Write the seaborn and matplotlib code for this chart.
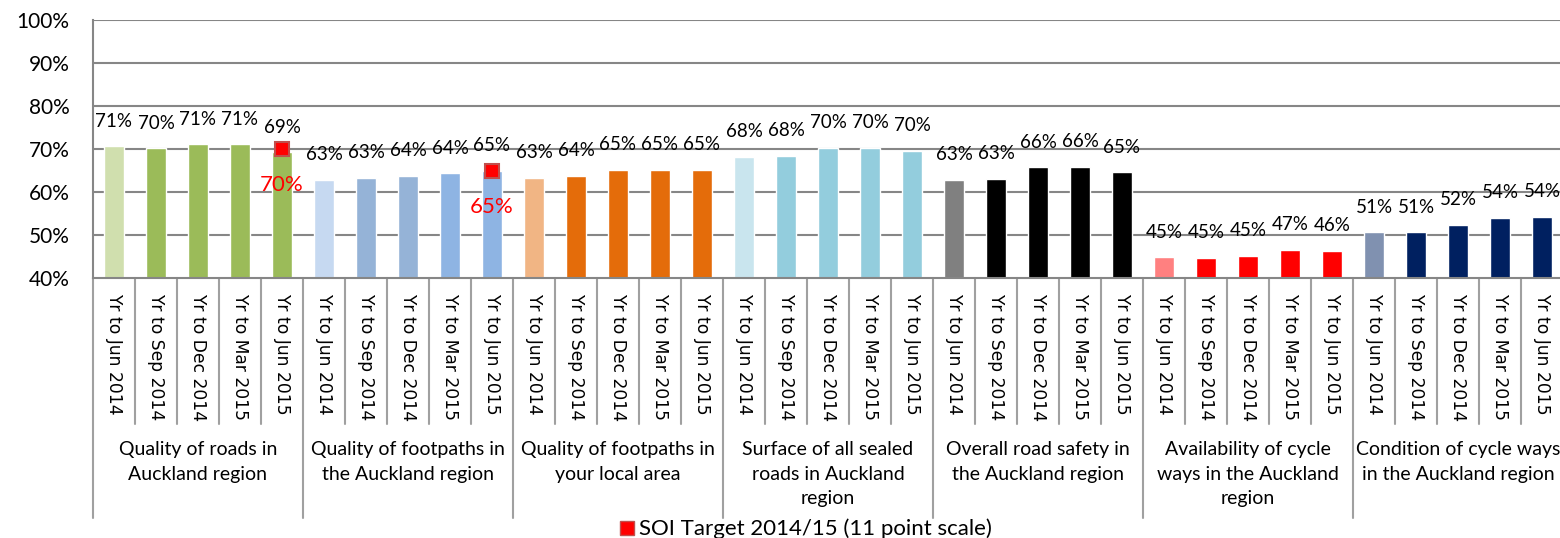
import numpy as np
import pandas as pd
import matplotlib
matplotlib.use("Agg")
import matplotlib.pyplot as plt
import matplotlib.transforms as mtransforms
from matplotlib.lines import Line2D
import seaborn as sns

periods = ["Yr to Jun 2014", "Yr to Sep 2014", "Yr to Dec 2014", "Yr to Mar 2015", "Yr to Jun 2015"]
measures = [
    "Quality of roads in\nAuckland region",
    "Quality of footpaths in\nthe Auckland region",
    "Quality of footpaths in\nyour local area",
    "Surface of all sealed\nroads in Auckland\nregion",
    "Overall road safety in\nthe Auckland region",
    "Availability of cycle\nways in the Auckland\nregion",
    "Condition of cycle ways\nin the Auckland region",
]
roads = [70.6, 70.2, 71.1, 71.1, 69.3]
footpaths_akl = [62.8, 63.3, 63.8, 64.4, 65.0]
footpaths_local = [63.3, 63.8, 65.2, 65.2, 65.2]
sealed = [68.2, 68.4, 70.3, 70.3, 69.6]
safety = [62.9, 63.1, 65.7, 65.9, 64.6]
cycle_avail = [44.8, 44.7, 45.2, 46.6, 46.3]
cycle_cond = [50.6, 50.6, 52.4, 54.0, 54.2]
all_values = [roads, footpaths_akl, footpaths_local, sealed, safety, cycle_avail, cycle_cond]

group_colors = [
    ["#D0DFAE", "#9BBB59", "#9BBB59", "#9BBB59", "#9BBB59"],
    ["#C6D9F1", "#95B3D7", "#95B3D7", "#8EB4E3", "#8EB4E3"],
    ["#F1B584", "#E46C0A", "#E46C0A", "#E46C0A", "#E46C0A"],
    ["#C9E5EE", "#93CDDD", "#93CDDD", "#93CDDD", "#93CDDD"],
    ["#808080", "#000000", "#000000", "#000000", "#000000"],
    ["#FF8080", "#FF0000", "#FF0000", "#FF0000", "#FF0000"],
    ["#8091B0", "#002060", "#002060", "#002060", "#002060"],
]

# SOI targets (group index, value)
target_groups = [0, 1]
target_values = [70, 65]

rows = []
for g, vals in enumerate(all_values):
    for p, v in enumerate(vals):
        rows.append({"slot": f"{g}_{p}", "period": periods[p], "value": v,
                     "color": group_colors[g][p]})
df = pd.DataFrame(rows)

sns.set_style("white")
plt.rcParams["font.family"] = ["Lato", "DejaVu Sans"]
plt.rcParams["text.color"] = "black"
plt.rcParams["xtick.color"] = "black"
plt.rcParams["ytick.color"] = "black"

fig = plt.figure(figsize=(15.6, 5.38), dpi=100)
ax = fig.add_axes([93 / 1560, 1 - 278 / 538, 1470 / 1560, 258 / 538])

sns.barplot(data=df, x="slot", y="value", hue="slot",
            palette=dict(zip(df["slot"], df["color"])), legend=False,
            width=0.48, saturation=1, ax=ax, order=list(df["slot"]))

ax.set_ylim(40, 100)
ax.set_xlim(-0.5, len(df) - 0.5)
ax.set_yticks(range(40, 101, 10))
ax.set_yticklabels([f"{t}%" for t in range(40, 101, 10)], fontsize=15)
ax.set_xlabel("")
ax.set_ylabel("")
for t in range(50, 101, 10):
    ax.axhline(t, color="#868686", lw=1.5, zorder=0)
for s in ["top", "right"]:
    ax.spines[s].set_visible(False)
ax.spines["left"].set_color("#868686")
ax.spines["bottom"].set_color("#868686")
ax.spines["left"].set_linewidth(1.5)
ax.spines["bottom"].set_linewidth(1.5)
ax.tick_params(axis="y", length=7, width=1.5, color="#868686", labelcolor="black", pad=10)

# period tick labels, rotated
ax.set_xticks(range(len(df)))
ax.set_xticklabels(df["period"], rotation=270, fontsize=12.3, family="DejaVu Sans",
                   va="top", ha="center")
ax.tick_params(axis="x", length=0, pad=11, labelcolor="black")

# value labels
for i, v in enumerate(df["value"]):
    ax.annotate(f"{round(v)}%", (i, v), xytext=(0, 18), textcoords="offset points",
                ha="center", va="center", fontsize=13.5)

# separators under the axis
trans = mtransforms.blended_transform_factory(ax.transData, ax.transAxes)
y_short = (278 - 424) / 258
y_long = (278 - 518) / 258
for i in range(len(df) + 1):
    y_end = y_long if i % 5 == 0 else y_short
    ax.add_line(Line2D([i - 0.5, i - 0.5], [0, y_end], transform=trans,
                       color="#A0A0A0", lw=1.5, clip_on=False))

# group labels
for g, name in enumerate(measures):
    ax.text(g * 5 + 2, (278 - 441) / 258, name, transform=trans, ha="center",
            va="top", fontsize=14, linespacing=1.55)

# target markers
for g, tv in zip(target_groups, target_values):
    xpos = g * 5 + 4
    ax.plot([xpos], [tv], marker="s", ms=10, color="#FF0000",
            markeredgecolor="#C0504D", markeredgewidth=1.5, linestyle="none",
            zorder=5, clip_on=False)
    ax.annotate(f"{tv}%", (xpos, tv), xytext=(0, -26), textcoords="offset points",
                ha="center", va="center", fontsize=16, color="#FF0000")

handle = Line2D([], [], marker="s", ms=10, color="#FF0000", markeredgecolor="#C0504D",
                linestyle="none")
fig.legend([handle], ["SOI Target 2014/15 (11 point scale)"], loc="center",
           bbox_to_anchor=(805 / 1560, 1 - 529 / 538), frameon=False, fontsize=16,
           handletextpad=0.1, borderpad=0, handlelength=0.8)

fig.savefig("out.png", dpi=100)
